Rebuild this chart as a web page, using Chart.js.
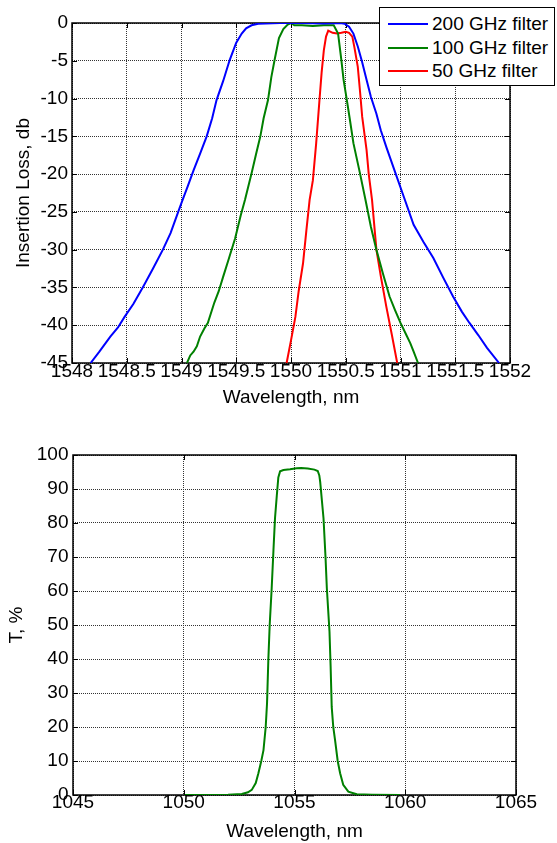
<!DOCTYPE html>
<html>
<head>
<meta charset="utf-8">
<script src="https://cdn.jsdelivr.net/npm/chart.js@4.4.1/dist/chart.umd.min.js"></script>
<style>
  body { margin: 0; background: #fff; }
  #wrap { position: relative; width: 557px; height: 843px; font-family: "Liberation Sans", Arial, sans-serif; }
  canvas { position: absolute; left: 0; }
  #c1 { top: 0; }
  #c2 { top: 420px; }
  #legend { position: absolute; left: 379px; top: 7px; width: 174px; height: 77px; border: 1px solid #000; background: #fff; }
  #legend .row { position: absolute; left: 0; height: 22px; display: flex; align-items: center; font-size: 19px; color: #000; white-space: nowrap; }
  #legend .row i { display: inline-block; width: 40px; height: 2px; margin: 0 4px 0 8px; }
</style>
</head>
<body>
<div id="wrap">
  <canvas id="c1" width="557" height="420"></canvas>
  <canvas id="c2" width="557" height="423"></canvas>
  <div id="legend"></div>
</div>
<script>
// insertion loss of the DWDM filters (nm, dB)
const wl200 = [1548.17, 1548.25, 1548.35, 1548.42, 1548.48, 1548.56, 1548.65, 1548.74, 1548.83, 1548.90, 1548.97, 1549.01, 1549.06, 1549.11, 1549.17, 1549.23, 1549.28, 1549.32, 1549.38, 1549.44, 1549.50, 1549.55, 1549.59, 1549.64, 1549.70, 1549.9, 1550.1, 1550.3, 1550.45, 1550.49, 1550.53, 1550.57, 1550.61, 1550.65, 1550.69, 1550.73, 1550.78, 1550.82, 1550.87, 1550.95, 1551.03, 1551.12, 1551.21, 1551.30, 1551.39, 1551.48, 1551.56, 1551.63, 1551.71, 1551.79, 1551.90];
const il200 = [-45, -43.5, -41.5, -40.3, -38.9, -37.2, -34.9, -32.5, -30, -27.8, -25, -23.4, -21.5, -19.5, -17.3, -15, -12.6, -10.2, -7.7, -4.9, -2.6, -1.4, -0.7, -0.3, -0.1, 0, 0, -0.05, 0, -0.1, -0.5, -1.4, -3.1, -5.2, -7.5, -9.8, -12, -14.2, -16.4, -19.7, -23, -26.7, -29, -31.1, -33.7, -36.2, -38.2, -39.7, -41.3, -43, -45];

const wl100 = [1549.05, 1549.08, 1549.11, 1549.14, 1549.17, 1549.21, 1549.24, 1549.30, 1549.34, 1549.38, 1549.43, 1549.49, 1549.54, 1549.58, 1549.64, 1549.68, 1549.72, 1549.75, 1549.79, 1549.82, 1549.85, 1549.89, 1549.93, 1549.97, 1550.00, 1550.03, 1550.1, 1550.2, 1550.3, 1550.39, 1550.43, 1550.46, 1550.48, 1550.51, 1550.54, 1550.57, 1550.63, 1550.68, 1550.73, 1550.78, 1550.84, 1550.90, 1550.95, 1551.00, 1551.05, 1551.09, 1551.12, 1551.16];
const il100 = [-45, -44, -43.5, -42.8, -41.5, -40.4, -39.7, -37, -35.5, -33.6, -31.3, -28.5, -25.5, -23.4, -19.9, -17.4, -15, -12.6, -10.2, -7.2, -4.9, -2, -0.8, -0.2, 0, -0.3, -0.3, -0.4, -0.3, -0.3, -1.4, -4.9, -7.5, -10.2, -13, -15.9, -19.9, -23.4, -27, -30, -33.2, -36.2, -38, -39.7, -41.2, -42.4, -43.5, -45];

const wl50 = [1549.96, 1550.00, 1550.04, 1550.07, 1550.11, 1550.14, 1550.17, 1550.20, 1550.23, 1550.26, 1550.28, 1550.30, 1550.32, 1550.34, 1550.38, 1550.42, 1550.46, 1550.50, 1550.53, 1550.56, 1550.58, 1550.61, 1550.63, 1550.65, 1550.69, 1550.71, 1550.74, 1550.78, 1550.82, 1550.87, 1550.92, 1550.97];
const il50 = [-45, -42, -38.9, -35.5, -31.8, -27.5, -23.4, -20.8, -15.9, -10.2, -6.5, -3.6, -1.8, -1.0, -1.3, -1.4, -1.3, -1.15, -1.3, -1.8, -3.3, -5.8, -9, -12.4, -16.8, -20, -23.4, -30, -33.5, -37.5, -41.2, -45];

const ilTicksX = [1548, 1548.5, 1549, 1549.5, 1550, 1550.5, 1551, 1551.5, 1552];
const ilTicksY = [-45, -40, -35, -30, -25, -20, -15, -10, -5, 0];

// transmission of the 1055 nm bandpass (nm, %)
const tWl = [1050.05, 1051, 1052, 1052.62, 1052.9, 1053.07, 1053.25, 1053.37, 1053.5, 1053.60, 1053.70, 1053.76, 1053.82, 1053.88, 1053.97, 1054.05, 1054.12, 1054.20, 1054.27, 1054.35, 1054.5, 1054.8, 1055.1, 1055.3, 1055.6, 1055.9, 1056.05, 1056.12, 1056.16, 1056.31, 1056.40, 1056.46, 1056.58, 1056.63, 1056.68, 1056.75, 1056.83, 1056.95, 1057.06, 1057.2, 1057.43, 1057.81, 1058.5, 1059.76];
const tPct = [0, 0, 0.1, 0.3, 0.8, 1.5, 3.5, 6.4, 10, 13.2, 20, 27, 40, 50, 60.8, 72, 81.4, 88, 93.4, 95.2, 95.6, 95.8, 96.1, 96.2, 96, 95.7, 95.3, 94, 92.1, 81.4, 70, 60.8, 48, 38, 25.9, 20, 16.2, 10, 6.4, 3, 1, 0.2, 0.1, 0];

const tTicksX = [1045, 1050, 1055, 1060, 1065];
const tTicksY = [0, 10, 20, 30, 40, 50, 60, 70, 80, 90, 100];

const FONT = '"Liberation Sans", Arial, sans-serif';

function pts(xs, ys){ return xs.map((x, i) => ({x, y: ys[i]})); }

// axes box plus short inward tick marks on all four sides
const frame = {
  id: 'frame',
  beforeDatasetsDraw(chart){
    const {ctx, chartArea: a, scales: {x, y}} = chart;
    ctx.save();
    ctx.strokeStyle = '#000';
    ctx.lineWidth = 1;
    ctx.beginPath();
    x.ticks.forEach(t => {
      const p = Math.round(x.getPixelForValue(t.value)) + 0.5;
      ctx.moveTo(p, a.bottom); ctx.lineTo(p, a.bottom - 5);
      ctx.moveTo(p, a.top); ctx.lineTo(p, a.top + 5);
    });
    y.ticks.forEach(t => {
      const p = Math.round(y.getPixelForValue(t.value)) + 0.5;
      ctx.moveTo(a.left, p); ctx.lineTo(a.left + 5, p);
      ctx.moveTo(a.right, p); ctx.lineTo(a.right - 5, p);
    });
    ctx.stroke();
    ctx.lineWidth = 1.5;
    ctx.strokeRect(a.left, a.top, a.right - a.left, a.bottom - a.top);
    ctx.restore();
  }
};

function axis(ticks, title, o){
  return {
    type: 'linear',
    position: o.position,
    min: ticks[0],
    max: ticks[ticks.length - 1],
    afterBuildTicks: s => { s.ticks = ticks.map(v => ({value: v})); },
    afterFit: o.fit,
    grid: { color: '#333', lineWidth: 1, drawTicks: false },
    border: { display: false, dash: [1, 1] },
    ticks: {
      color: '#000', padding: o.pad, autoSkip: false, maxRotation: 0,
      font: { family: FONT, size: 19, lineHeight: 1 },
      callback: v => String(v)
    },
    title: { display: true, text: title, color: '#000', font: { family: FONT, size: 19 }, padding: o.tpad }
  };
}

function line(label, color, xs, ys){
  return { label, data: pts(xs, ys), borderColor: color, backgroundColor: color, borderWidth: 2, pointRadius: 0, tension: 0 };
}

const ilChart = new Chart(document.getElementById('c1'), {
  type: 'line',
  data: { datasets: [
    line('200 GHz filter', '#0000ff', wl200, il200),
    line('100 GHz filter', '#008000', wl100, il100),
    line('50 GHz filter', '#ff0000', wl50, il50)
  ]},
  options: {
    responsive: false, animation: false, devicePixelRatio: 1,
    layout: { padding: { top: 23, right: 47, left: 0, bottom: 0 } },
    plugins: { legend: { display: false }, tooltip: { enabled: false } },
    scales: {
      x: axis(ilTicksX, 'Wavelength, nm', { position: 'bottom', pad: -1, tpad: { top: 0, bottom: 10.6 }, fit: s => { s.height = 57; } }),
      y: axis(ilTicksY, 'Insertion Loss, db', { position: 'left', pad: 4, tpad: { top: 12.6, bottom: 0 }, fit: s => { s.width = 72; } })
    }
  },
  plugins: [frame]
});

new Chart(document.getElementById('c2'), {
  type: 'line',
  data: { datasets: [ line('T', '#008000', tWl, tPct) ] },
  options: {
    responsive: false, animation: false, devicePixelRatio: 1,
    layout: { padding: { top: 35, right: 41, left: 0, bottom: 0 } },
    plugins: { legend: { display: false }, tooltip: { enabled: false } },
    scales: {
      x: axis(tTicksX, 'Wavelength, nm', { position: 'bottom', pad: -1.8, tpad: { top: 0, bottom: 0 }, fit: s => { s.height = 48; } }),
      y: axis(tTicksY, 'T, %', { position: 'left', pad: 4.5, tpad: { top: 5.6, bottom: 0 }, fit: s => { s.width = 73; } })
    }
  },
  plugins: [frame]
});

// legend box for the filter curves
const legend = document.getElementById('legend');
ilChart.data.datasets.forEach((ds, i) => {
  const row = document.createElement('div');
  row.className = 'row';
  row.style.top = (5 + i * 23.5) + 'px';
  row.innerHTML = `<i style="background:${ds.borderColor}"></i><span>${ds.label}</span>`;
  legend.appendChild(row);
});
</script>
</body>
</html>
